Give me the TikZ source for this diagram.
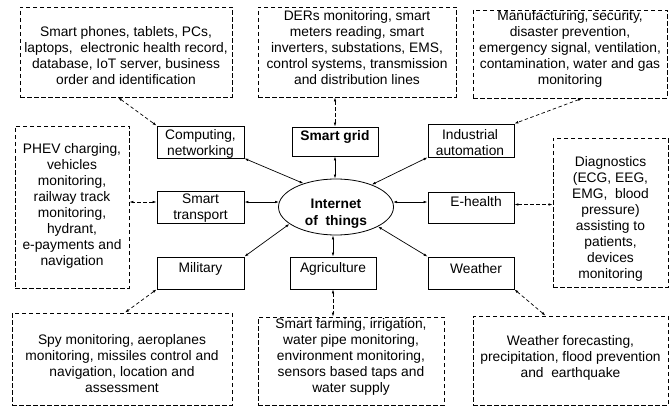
\documentclass[tikz,border=0pt]{standalone}
\usepackage{fontspec}
\setmainfont{Liberation Sans}
\usetikzlibrary{arrows.meta,shapes.geometric}
\begin{document}
\begin{tikzpicture}[x=1pt,y=-1pt,
  every node/.style={font=\fontsize{13.8}{16}\selectfont},
  sized/.style 2 args={minimum width=#1pt, minimum height=#2pt},
  catbox/.style={draw, line width=0.8pt, rectangle, inner sep=0pt},
  infobox/.style={draw, line width=0.8pt, dash pattern=on 4.5pt off 2.5pt, rectangle, inner sep=0pt},
  txt/.style={align=center, inner sep=0pt},
  link/.style={<->, line width=0.7pt},
  dlink/.style={<->, line width=0.7pt, dash pattern=on 3.5pt off 2.5pt},
  >={Latex[length=4pt,width=2.6pt]}
]
\useasboundingbox (0,0) rectangle (672,409);
\fill[white] (0,0) rectangle (672,409);

% central hub
\node[draw, line width=0.8pt, ellipse, inner sep=0pt, sized={115}{56}] (iot) at (336,207) {};
\node[txt, font=\fontsize{13.8}{16.5}\selectfont\bfseries] (tiot) at (336,213.5) {Internet\\of\ \ things};

% application areas
\node[catbox, sized={87}{32}] (bComp) at (200.5,142) {};
\node[txt] (tComp) at (200.5,143.5) {Computing,\\networking};
\node[catbox, sized={86}{29}] (bSG) at (335,141.5) {};
\node[txt, font=\fontsize{13.8}{16}\selectfont\bfseries] (tSG) at (335,136.5) {Smart grid};
\node[catbox, sized={86}{33}] (bInd) at (471,140.5) {};
\node[txt] (tInd) at (470,143) {Industrial\\automation};
\node[catbox, sized={87}{32}] (bTr) at (200.5,207) {};
\node[txt] (tTr) at (200.5,208.5) {Smart\\transport};
\node[catbox, sized={86}{31}] (bEH) at (471,207.5) {};
\node[txt] (tEH) at (476,201.5) {E-health};
\node[catbox, sized={87}{32}] (bMil) at (200.5,273) {};
\node[txt] (tMil) at (200.5,268.5) {Military};
\node[catbox, sized={86}{32}] (bAg) at (333,273) {};
\node[txt] (tAg) at (333,268.5) {Agriculture};
\node[catbox, sized={86}{32}] (bWe) at (471,273) {};
\node[txt] (tWe) at (476,268.5) {Weather};

% detail boxes
\node[infobox, sized={212}{90}] (iComp) at (126,52) {};
\node[txt] (dComp) at (126,56) {Smart phones, tablets, PCs,\\laptops,\ \ electronic health record,\\database, IoT server, business\\order and identification};
\node[infobox, sized={198}{90}] (iGrid) at (357,52) {};
\node[txt] (dGrid) at (357,47.5) {DERs monitoring, smart\\meters reading, smart\\inverters, substations, EMS,\\control systems, transmission\\and distribution lines};
\node[infobox, sized={194}{88}] (iInd) at (570,54) {};
\node[txt] (dInd) at (570,49) {Manufacturing, security,\\disaster prevention,\\emergency signal, ventilation,\\contamination, water and gas\\monitoring};
\node[infobox, sized={114}{162}] (iTr) at (72,207) {};
\node[txt] (dTr) at (72,206) {PHEV charging,\\vehicles\\monitoring,\\railway track\\monitoring,\\hydrant,\\e-payments and\\navigation};
\node[infobox, sized={115}{149}] (iEH) at (610.5,212.5) {};
\node[txt] (dEH) at (610.5,219) {Diagnostics\\(ECG, EEG,\\EMG,\ \ blood\\pressure)\\assisting to\\patients,\\devices\\monitoring};
\node[infobox, sized={220}{92}] (iMil) at (122,359) {};
\node[txt] (dMil) at (122,363.5) {Spy monitoring, aeroplanes\\monitoring, missiles control and\\navigation, location and\\assessment};
\node[infobox, sized={186}{88}] (iAg) at (351,361) {};
\node[txt] (dAg) at (351,356.5) {Smart farming, irrigation,\\water pipe monitoring,\\environment monitoring,\\sensors based taps and\\water supply};
\node[infobox, sized={195}{89}] (iWe) at (570.5,360.5) {};
\node[txt] (dWe) at (570.5,357.5) {Weather forecasting,\\precipitation, flood prevention\\and\ \ earthquake};

% hub links
\draw[link] (bComp.south east) -- (iot.144);
\draw[link] (bSG.south) -- (bSG.south |- iot.north);
\draw[link] (bInd.south west) -- (iot.32);
\draw[link] (iot.175 -| bTr.east) -- (iot.175);
\draw[link] (iot.5) -- (iot.5 -| bEH.west);
\draw[link] (bMil.north east) -- (iot.200);
\draw[link] (bAg.north) -- (bAg.north |- iot.south);
\draw[link] (bWe.north west) -- (iot.335);

% detail links
\draw[dlink] ([xshift=-8pt]iComp.south) -- (bComp.north west);
\draw[dlink] (bSG.north) -- (bSG.north |- iGrid.south);
\draw[dlink] ([xshift=12pt]iInd.south) -- (bInd.north east);
\draw[dlink] ([yshift=5pt]bTr.west) -- ([yshift=5pt]bTr.west -| iTr.east);
\draw[dlink] ([yshift=3pt]bEH.east) -- ([yshift=3pt]bEH.east -| iEH.west);
\draw[dlink] (bMil.south west) -- ([xshift=3pt]iMil.north);
\draw[dlink] (bAg.south) -- (bAg.south |- iAg.north);
\draw[dlink] (bWe.south east) -- ([xshift=-25pt]iWe.north);
\end{tikzpicture}
\end{document}
